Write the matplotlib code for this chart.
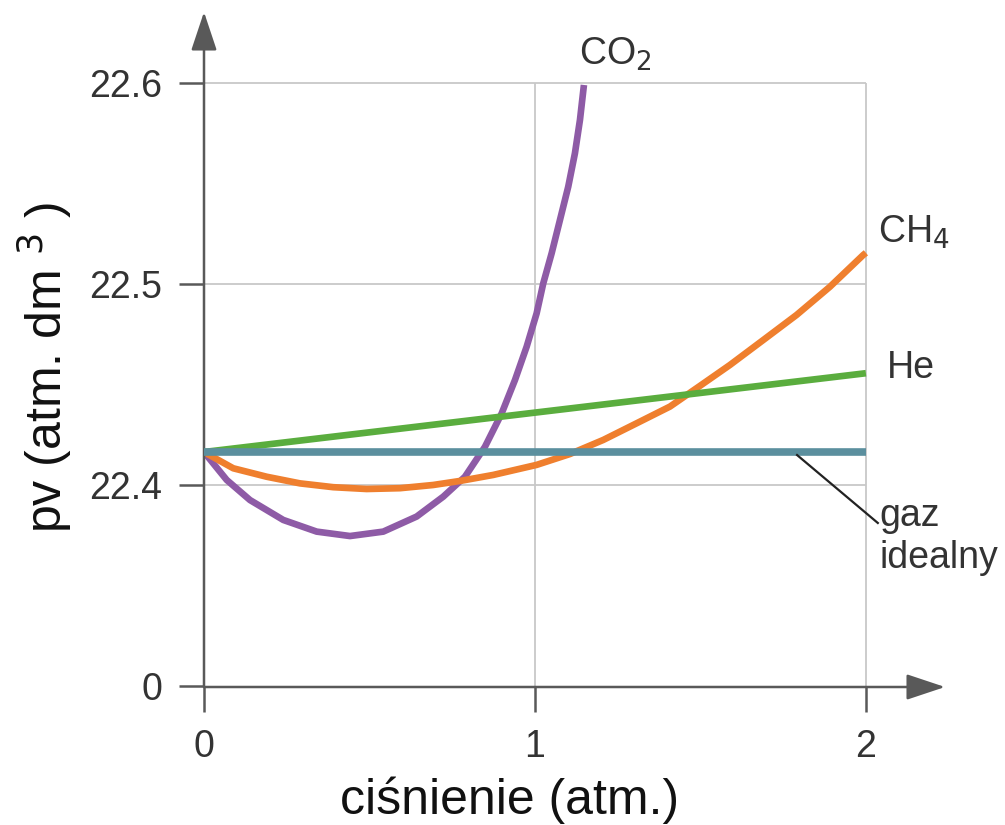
import matplotlib
matplotlib.use("Agg")
import matplotlib.pyplot as plt

plt.rcParams["font.family"] = ["Liberation Sans", "DejaVu Sans"]

# values (y in atm.dm3, the "0" tick stands for a broken axis at 22.3)
co2_x = [0.0, 0.0686, 0.139, 0.2396, 0.3405, 0.4411, 0.5417, 0.6426, 0.7230, 0.7885,
         0.8489, 0.8994, 0.9396, 0.9749, 1.0051, 1.0251, 1.0505, 1.0755, 1.1006, 1.1208,
         1.1360, 1.1480]
co2_y = [22.4164, 22.4025, 22.3925, 22.3826, 22.3768, 22.3746, 22.3768, 22.3843, 22.3942,
         22.4041, 22.4190, 22.4356, 22.4522, 22.4688, 22.4854, 22.5003, 22.5153, 22.5318,
         22.5484, 22.5650, 22.5816, 22.5990]

ch4_x = [0.0, 0.0885, 0.1894, 0.2900, 0.3906, 0.4915, 0.5921, 0.6927, 0.7734, 0.8740,
         1.0051, 1.1057, 1.2063, 1.3073, 1.4079, 1.4985, 1.5891, 1.6897, 1.7906, 1.8912,
         1.9918, 2.0]
ch4_y = [22.4164, 22.4083, 22.4041, 22.4008, 22.3989, 22.3980, 22.3984, 22.4000, 22.4020,
         22.4050, 22.4100, 22.4154, 22.4224, 22.4307, 22.4390, 22.4493, 22.4597, 22.4721,
         22.4846, 22.4986, 22.5144, 22.5155]

he_x = [0.0, 2.0]
he_y = [22.4164, 22.4556]

ideal_x = [0.0, 2.0]
ideal_y = [22.4164, 22.4164]

x_ticks = [0, 1, 2]
y_ticks = [22.3, 22.4, 22.5, 22.6]
y_tick_labels = ["0", "22.4", "22.5", "22.6"]

AXIS = "#595959"
GRID = "#c8c8c8"

fig = plt.figure(figsize=(10.05, 8.25), dpi=100)
ax = fig.add_axes([204 / 1005, 138 / 825, 741 / 1005, 675 / 825])
ax.set_xlim(0, 2.239)
ax.set_ylim(22.2995, 22.6353)
for s in ax.spines.values():
    s.set_visible(False)

# grid only inside the data box
ax.vlines([1, 2], 22.2995, 22.6, color=GRID, lw=1.3, zorder=1)
ax.hlines([22.4, 22.5, 22.6], 0, 2, color=GRID, lw=1.3, zorder=1)

ax.plot(co2_x, co2_y, color="#8e5ba6", lw=4.8, solid_capstyle="butt",
        solid_joinstyle="round", zorder=3)
ax.plot(ch4_x, ch4_y, color="#ef7f2e", lw=4.8, solid_capstyle="butt",
        solid_joinstyle="round", zorder=3)
ax.plot(he_x, he_y, color="#5aad3e", lw=4.8, solid_capstyle="butt", zorder=4)
ax.plot(ideal_x, ideal_y, color="#5b8f9e", lw=5.5, solid_capstyle="butt", zorder=5)

# axes with arrow heads
arrow = dict(arrowstyle="-|>,head_length=1.2,head_width=0.4", mutation_scale=20,
             color=AXIS, lw=1.8, shrinkA=0, shrinkB=0)
ax.annotate("", xy=(1, 0), xytext=(0, 0), xycoords="axes fraction", arrowprops=arrow)
ax.annotate("", xy=(0, 1), xytext=(0, 0), xycoords="axes fraction", arrowprops=arrow)

ax.set_xticks(x_ticks)
ax.set_xticklabels([str(t) for t in x_ticks])
ax.set_yticks(y_ticks)
ax.set_yticklabels(y_tick_labels)
ax.tick_params(length=18, width=1.8, color=AXIS, direction="out", labelsize=27,
               labelcolor="#333333", pad=12)

# curve labels
ax.text(1.242, 22.614, "CO$_2$", fontsize=27, color="#333333", ha="center", va="center")
ax.text(2.036, 22.5259, "CH$_4$", fontsize=27, color="#333333", ha="left", va="center")
ax.text(2.063, 22.4582, "He", fontsize=27, color="#333333", ha="left", va="center")
ax.text(2.042, 22.3740, "gaz\nidealny", fontsize=27, color="#333333", ha="left",
        va="center", linespacing=1.2)
ax.plot([1.792, 2.036], [22.4149, 22.3811], color="#222222", lw=1.6, zorder=6)

fig.text(510 / 1005, 1 - 800 / 825, "ciśnienie (atm.)", fontsize=36, color="#111111",
         ha="center", va="center")
fig.text(45 / 1005, 1 - 367 / 825, "pv (atm. dm $^3$ )", fontsize=36, color="#111111",
         ha="center", va="center", rotation=90)

fig.savefig("out.png", dpi=100, facecolor="white")
